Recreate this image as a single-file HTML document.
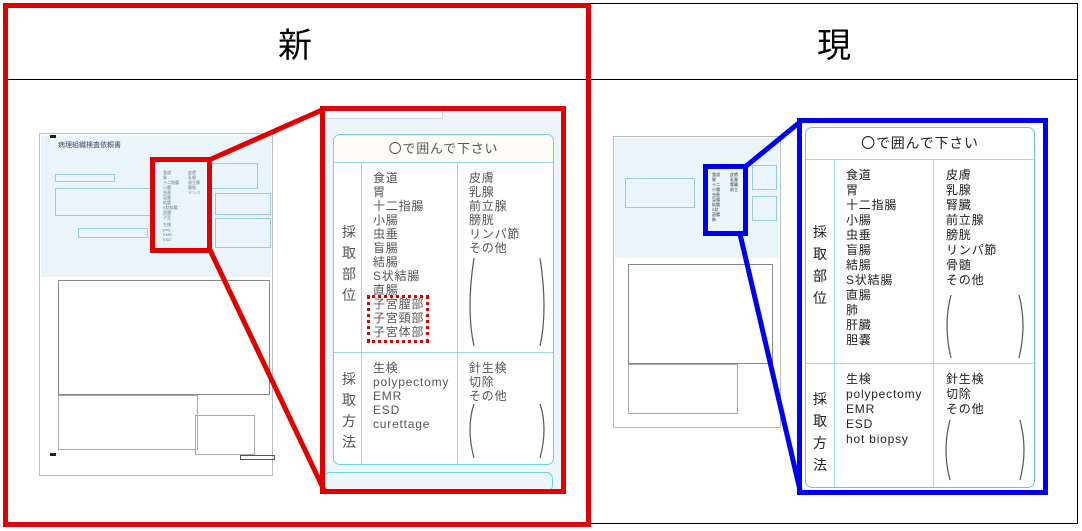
<!DOCTYPE html>
<html><head><meta charset="utf-8"><style>
body{margin:0;width:1082px;height:531px;background:#fff;position:relative;overflow:hidden;font-family:"Liberation Sans","Noto Sans CJK JP",sans-serif;}
.a{position:absolute;box-sizing:border-box;}
.t{position:absolute;font-size:12px;color:#555;line-height:14px;white-space:nowrap;letter-spacing:0.8px;}
.r{color:#222;}
.m{position:absolute;font-size:4px;line-height:5px;color:#678;white-space:nowrap;}
</style></head><body>
<div class="a" style="left:3px;top:3px;width:1075px;height:521px;border:1.5px solid #000;"></div>
<div class="a" style="left:3px;top:79px;width:1075px;height:0;border-top:1.5px solid #000;"></div>
<div class="a" style="left:590px;top:3px;width:0;height:521px;border-left:1.5px solid #000;"></div>
<div class="a" style="left:0;top:18px;width:590px;text-align:center;font-size:34px;line-height:50px;color:#000;font-family:'Noto Sans CJK JP',sans-serif;">新</div>
<div class="a" style="left:590px;top:18px;width:488px;text-align:center;font-size:34px;line-height:50px;color:#000;font-family:'Noto Sans CJK JP',sans-serif;">現</div>

<!-- left document -->
<div class="a" style="left:39px;top:133px;width:234px;height:343px;border:1.5px solid #bbb;background:#fff;"></div>
<div class="a" style="left:41px;top:135px;width:230px;height:142px;background:#eaf5fb;"></div>
<div class="a" style="left:58px;top:140px;font-size:7px;color:#446;">病理組織検査依頼書</div>
<div class="a" style="left:55px;top:174px;width:60px;height:8px;border:1px solid #9cd;"></div>
<div class="a" style="left:55px;top:188px;width:100px;height:28px;border:1px solid #9cd;"></div>
<div class="a" style="left:78px;top:228px;width:70px;height:10px;border:1px solid #9cd;"></div>
<div class="a" style="left:210px;top:163px;width:48px;height:26px;border:1px solid #9cd;"></div>
<div class="a" style="left:215px;top:193px;width:56px;height:22px;border:1px solid #9cd;"></div>
<div class="a" style="left:215px;top:218px;width:56px;height:30px;border:1px solid #9cd;"></div>
<div class="m" style="left:163px;top:170px;">食道<br>胃<br>十二指腸<br>小腸<br>虫垂<br>盲腸<br>結腸<br>S状結腸<br>直腸<br>子宮</div>
<div class="m" style="left:188px;top:170px;">皮膚<br>乳腺<br>前立腺<br>膀胱<br>リンパ</div>
<div class="m" style="left:163px;top:222px;">生検<br>poly<br>EMR<br>ESD</div>
<div class="a" style="left:58px;top:280px;width:212px;height:115px;border:1.5px solid #888;"></div>
<div class="a" style="left:58px;top:395px;width:140px;height:55px;border:1px solid #aaa;"></div>
<div class="a" style="left:195px;top:415px;width:60px;height:40px;border:1px solid #aaa;"></div>
<div class="a" style="left:240px;top:455px;width:35px;height:5px;border:1px solid #555;"></div>
<div class="a" style="left:50px;top:135px;width:6px;height:3px;background:#222;"></div>
<div class="a" style="left:50px;top:453px;width:6px;height:3px;background:#222;"></div>

<!-- right document -->
<div class="a" style="left:613px;top:136px;width:168px;height:292px;border:1.5px solid #bbb;background:#fff;"></div>
<div class="a" style="left:615px;top:138px;width:164px;height:120px;background:#eaf5fb;"></div>
<div class="a" style="left:628px;top:264px;width:145px;height:100px;border:1.5px solid #888;"></div>
<div class="a" style="left:628px;top:364px;width:110px;height:50px;border:1px solid #aaa;"></div>
<div class="a" style="left:625px;top:178px;width:70px;height:30px;border:1px solid #9cd;"></div>
<div class="a" style="left:752px;top:165px;width:25px;height:25px;border:1px solid #9cd;"></div>
<div class="a" style="left:752px;top:196px;width:25px;height:25px;border:1px solid #9cd;"></div>
<div class="m" style="left:712px;top:172px;color:#333;">食道<br>胃<br>十二<br>小腸<br>虫垂<br>盲腸<br>結腸<br>S状<br>直腸<br>肺</div>
<div class="m" style="left:730px;top:172px;color:#333;">皮膚<br>乳腺<br>腎臓<br>前立</div>

<!-- red zoom panel -->
<div class="a" style="left:323px;top:109px;width:240px;height:381px;background:#eef6fb;"></div>
<div class="a" style="left:323px;top:109px;width:120px;height:10px;background:#fff;border-right:1px solid #cde;border-bottom:1px solid #cde;"></div>
<div class="a" style="left:333px;top:134px;width:221px;height:331px;border:1.5px solid #6cd3e0;border-radius:7px;background:#fff;"></div>
<div class="a" style="left:334px;top:135px;width:219px;height:28px;background:#fdfdf5;border-bottom:1px solid #9dd;border-radius:6px 6px 0 0;"></div>
<div class="a" style="left:361px;top:163px;width:0;height:301px;border-left:1px solid #9dd;"></div>
<div class="a" style="left:457px;top:163px;width:0;height:301px;border-left:1px solid #9dd;"></div>
<div class="a" style="left:334px;top:352px;width:219px;height:0;border-top:1px solid #9dd;"></div>
<div class="a" style="left:323px;top:472px;width:230px;height:20px;border:1.5px solid #6cd3e0;border-radius:7px;border-bottom:none;"></div>
<div class="t" style="left:334px;top:142px;width:219px;text-align:center;font-size:13px;">〇で囲んで下さい</div>
<div class="t" style="left:342px;top:222px;line-height:21px;font-size:14px;">採<br>取<br>部<br>位</div>
<div class="t" style="left:342px;top:369px;line-height:21px;font-size:14px;">採<br>取<br>方<br>法</div>
<div class="t" style="left:373px;top:171px;">食道<br>胃<br>十二指腸<br>小腸<br>虫垂<br>盲腸<br>結腸<br>S状結腸<br>直腸<br>子宮膣部<br>子宮頸部<br>子宮体部</div>
<div class="t" style="left:469px;top:171px;">皮膚<br>乳腺<br>前立腺<br>膀胱<br>リンパ節<br>その他</div>
<div class="t" style="left:373px;top:361px;">生検<br>polypectomy<br>EMR<br>ESD<br>curettage</div>
<div class="t" style="left:469px;top:361px;">針生検<br>切除<br>その他</div>
<div class="a" style="left:367px;top:295px;width:62px;height:48px;border:3.5px dotted #e00000;"></div>

<!-- blue zoom panel -->
<div class="a" style="left:805px;top:127px;width:230px;height:361px;border:1.5px solid #6cc3e0;border-radius:7px;background:#fff;"></div>
<div class="a" style="left:806px;top:159px;width:228px;height:0;border-top:1px solid #9dd;"></div>
<div class="a" style="left:834px;top:159px;width:0;height:328px;border-left:1px solid #9dd;"></div>
<div class="a" style="left:933px;top:159px;width:0;height:328px;border-left:1px solid #9dd;"></div>
<div class="a" style="left:806px;top:363px;width:228px;height:0;border-top:1px solid #9dd;"></div>
<div class="t r" style="left:806px;top:136px;width:228px;text-align:center;font-size:14px;">〇で囲んで下さい</div>
<div class="t r" style="left:813px;top:221px;line-height:22px;font-size:14px;">採<br>取<br>部<br>位</div>
<div class="t r" style="left:813px;top:388px;line-height:22px;font-size:14px;">採<br>取<br>方<br>法</div>
<div class="t r" style="left:846px;top:168px;line-height:15px;">食道<br>胃<br>十二指腸<br>小腸<br>虫垂<br>盲腸<br>結腸<br>S状結腸<br>直腸<br>肺<br>肝臓<br>胆嚢</div>
<div class="t r" style="left:946px;top:168px;line-height:15px;">皮膚<br>乳腺<br>腎臓<br>前立腺<br>膀胱<br>リンパ節<br>骨髄<br>その他</div>
<div class="t r" style="left:846px;top:372px;line-height:15px;">生検<br>polypectomy<br>EMR<br>ESD<br>hot biopsy</div>
<div class="t r" style="left:946px;top:372px;line-height:15px;">針生検<br>切除<br>その他</div>

<svg class="a" style="left:0;top:0;" width="1082" height="531">
 <g fill="none" stroke="#555" stroke-width="1.2">
  <path d="M474 258 Q466 310 474 346"/><path d="M540 258 Q548 310 540 346"/>
  <path d="M474 404 Q466 428 474 458"/><path d="M540 404 Q548 428 540 458"/>
  <path d="M951 295 Q943 325 951 358"/><path d="M1019 295 Q1027 325 1019 358"/>
  <path d="M950 420 Q942 450 950 480"/><path d="M1020 420 Q1028 450 1020 480"/>
 </g>
 <g stroke="#e00000" stroke-width="5" fill="none">
  <rect x="5.5" y="5.5" width="583" height="519"/>
  <rect x="322.5" y="108.5" width="241" height="383"/>
  <rect x="152.5" y="159.5" width="57" height="91"/>
  <line x1="209" y1="160" x2="322" y2="110"/>
  <line x1="210" y1="250" x2="324" y2="490"/>
 </g>
 <g stroke="#0000f0" stroke-width="5" fill="none">
  <rect x="799.5" y="120.5" width="246" height="372"/>
  <rect x="705.5" y="166.5" width="40" height="67"/>
  <line x1="745" y1="167" x2="800" y2="122"/>
  <line x1="740" y1="234" x2="800" y2="490"/>
 </g>
</svg>
</body></html>
